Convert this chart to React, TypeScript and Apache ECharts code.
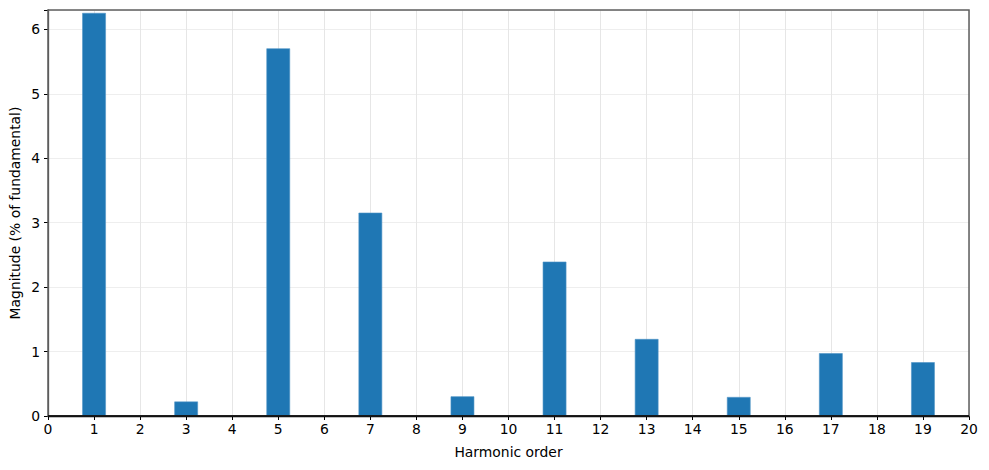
import React, { useEffect, useRef } from "react";
import * as echarts from "echarts";

const harmonicOrders: number[] = [1, 3, 5, 7, 9, 11, 13, 15, 17, 19];
const magnitudes: number[] = [6.25, 0.22, 5.7, 3.15, 0.3, 2.39, 1.19, 0.29, 0.97, 0.83];
const barWidthUnits = 0.5;

export default function App() {
  const ref = useRef<HTMLDivElement>(null);
  useEffect(() => {
    if (!ref.current) return;
    const chart = echarts.init(ref.current, undefined, { renderer: "svg" });
    const font = "DejaVu Sans";
    const fs = 13.9;
    const data = harmonicOrders.map((h, i) => [h, magnitudes[i]]);
    chart.setOption({
      animation: false,
      backgroundColor: "#ffffff",
      grid: {
        left: 48,
        right: 20,
        top: 10,
        bottom: 54,
        show: false,
        containLabel: false,
        outerBoundsMode: "none",
      },
      xAxis: {
        type: "value",
        min: 0,
        max: 20,
        interval: 1,
        name: "Harmonic order",
        nameLocation: "middle",
        nameGap: 29,
        nameMoveOverlap: false,
        nameTextStyle: { fontFamily: font, fontSize: fs, color: "#000" },
        axisLine: { show: true, onZero: false, lineStyle: { color: "#000", width: 1.3 } },
        axisTick: { show: true, length: 4, lineStyle: { color: "#000" } },
        axisLabel: { fontFamily: font, fontSize: fs, color: "#000", margin: 6 },
        splitLine: { show: true, lineStyle: { color: "#e6e6e6", width: 1 } },
      },
      yAxis: {
        type: "value",
        min: 0,
        max: 6.3,
        interval: 1,
        name: "Magnitude (% of fundamental)",
        nameLocation: "middle",
        nameGap: 26,
        nameMoveOverlap: false,
        nameTextStyle: { fontFamily: font, fontSize: fs, color: "#000" },
        axisLine: { show: true, lineStyle: { color: "#555", width: 1.3 } },
        axisTick: { show: true, length: 4, lineStyle: { color: "#000" } },
        axisLabel: {
          fontFamily: font,
          fontSize: fs,
          color: "#000",
          margin: 8,
          formatter: (v: number) => (Number.isInteger(v) ? String(v) : ""),
        },
        splitLine: { show: true, lineStyle: { color: "#eeeeee", width: 1 } },
      },
      graphic: [
        {
          type: "rect",
          shape: { x: 48, y: 10, width: 921, height: 406 },
          style: { fill: "none", stroke: "#5f5f5f", lineWidth: 1.5 },
          z: 10,
          silent: true,
        },
        {
          type: "line",
          shape: { x1: 48, y1: 416, x2: 969, y2: 416 },
          style: { stroke: "#000", lineWidth: 1.3 },
          z: 11,
          silent: true,
        },
      ],
      series: [
        {
          type: "custom",
          data,
          encode: { x: 0, y: 1 },
          renderItem: (params: any, api: any) => {
            const x = api.value(0);
            const y = api.value(1);
            const topLeft = api.coord([x - barWidthUnits / 2, y]);
            const bottomRight = api.coord([x + barWidthUnits / 2, 0]);
            return {
              type: "rect",
              shape: {
                x: topLeft[0],
                y: topLeft[1],
                width: bottomRight[0] - topLeft[0],
                height: bottomRight[1] - topLeft[1],
              },
              style: { fill: "#1f77b4", stroke: "#4f93c6", lineWidth: 0.6 },
            };
          },
        },
      ],
    });
    return () => chart.dispose();
  }, []);
  return (
    <div
      ref={ref}
      style={{ position: "fixed", left: 0, top: 0, width: 989, height: 470 }}
    />
  );
}
